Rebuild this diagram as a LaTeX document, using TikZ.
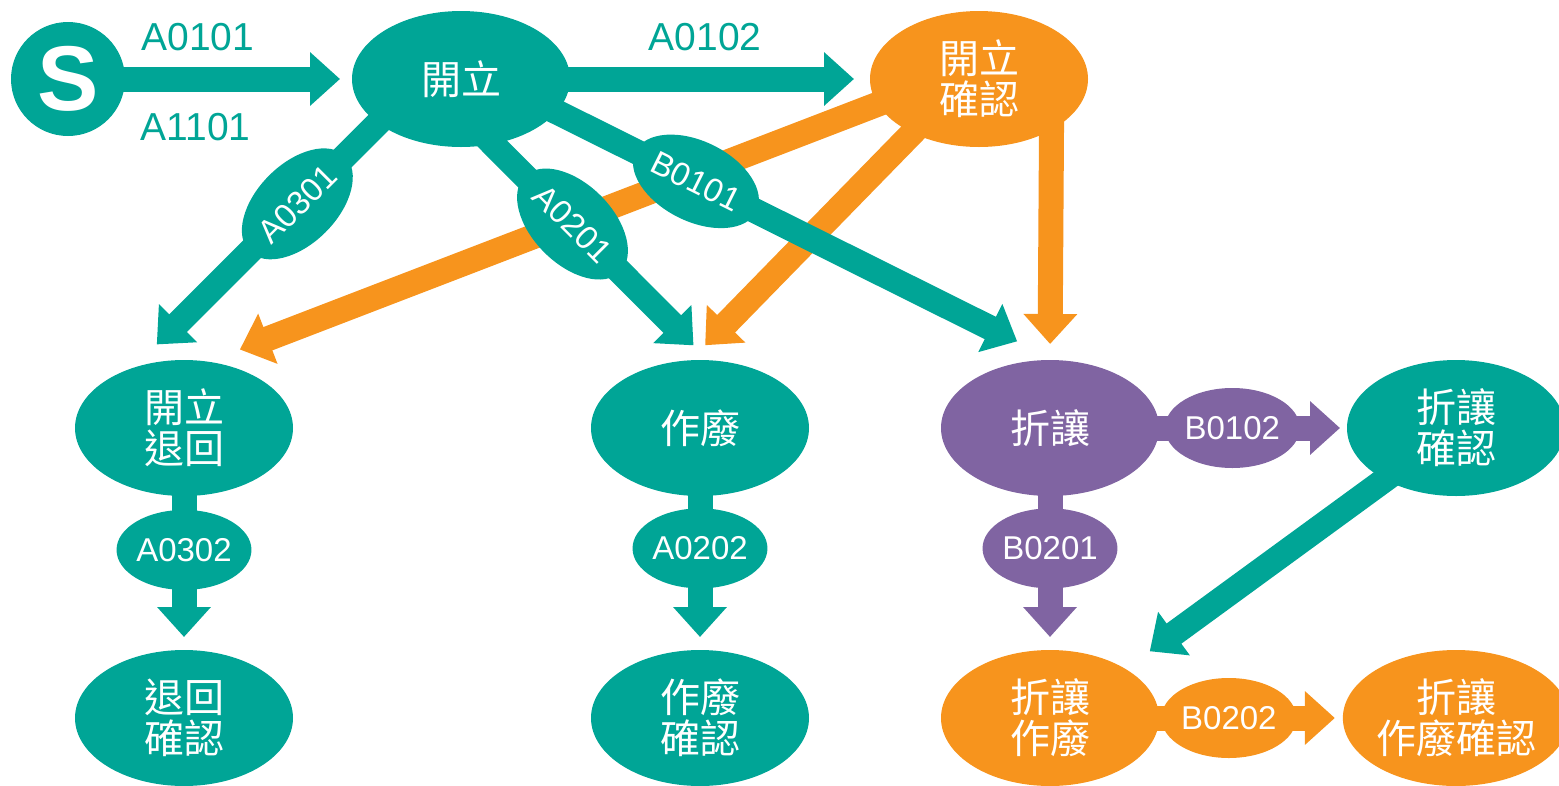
\documentclass[tikz,border=0pt]{standalone}
\usepackage{fontspec}
\setmainfont{Liberation Sans}
\newfontfamily\cjk{Noto Sans CJK TC}
\usetikzlibrary{arrows.meta,shapes.geometric,positioning,backgrounds}
\definecolor{kteal}{HTML}{00A596}
\definecolor{korange}{HTML}{F7941D}
\definecolor{kpurple}{HTML}{8064A2}

\begin{document}
\begin{tikzpicture}[x=1pt,y=-1pt,node distance=290pt,
    state node/.style={ellipse,minimum width=218pt,minimum height=136pt,inner sep=0pt,outer sep=0pt,
                       text=white,align=center,font=\cjk\fontsize{40}{41}\selectfont},
    code node/.style={ellipse,minimum width=132pt,minimum height=80pt,inner sep=0pt,
                      text=white,font=\fontsize{33}{36}\selectfont},
    tag node/.style={text=kteal,font=\fontsize{39}{40}\selectfont},
    flow/.style={line width=25pt,shorten <=-14pt,-{Triangle[width=52pt,length=30pt]}}]

  \useasboundingbox (0,0) rectangle (1559,785);

  \node[circle,fill=kteal,minimum size=114pt,inner sep=0pt,text=white,
        font=\fontsize{92}{92}\selectfont\bfseries] (start) at (68,79) {S};
  \node[state node,fill=kteal] (kaili) at (461,79) {開立};
  \node[state node,fill=korange] (kqr) at (979,79) {開立\\確認};
  \node[state node,fill=kteal] (tuihui) at (184,428) {開立\\退回};
  \node[state node,fill=kteal] (zuofei) at (700,428) {作廢};
  \node[state node,fill=kpurple] (zherang) at (1050,428) {折讓};
  \node[state node,fill=kteal,node distance=406pt] (zrqr) [right of=zherang] {折讓\\確認};
  \node[state node,fill=kteal] (thqr) [below of=tuihui] {退回\\確認};
  \node[state node,fill=kteal] (zfqr) [below of=zuofei] {作廢\\確認};
  \node[state node,fill=korange] (zrzf) [below of=zherang] {折讓\\作廢};
  \node[state node,fill=korange] (zrzfqr) [below of=zrqr] {折讓\\作廢確認};

  \begin{scope}[on background layer]
    % orange first, teal goes over it
    \draw[flow,korange,shorten >=34pt] (kqr.194) -- (tuihui.70);
    \draw[flow,korange,shorten >=21pt] (kqr.219) -- (zuofei.98);
    \draw[flow,korange,shorten >=16pt] (kqr.325) -- (zherang.north);

    \draw[flow,kteal,shorten >=12pt] (start) -- (kaili)
      node[tag node,pos=.32,yshift=42pt] {A0101}
      node[tag node,pos=.31,yshift=-48pt] {A1101};
    \draw[flow,kteal,shorten >=16pt] (kaili) -- (kqr)
      node[tag node,pos=.45,yshift=42pt] {A0102};
    \draw[flow,kteal,shorten >=33pt] (kaili.208) -- (tuihui.130)
      node[code node,fill=kteal,sloped,pos=.33] {A0301};
    \draw[flow,kteal,shorten >=21pt] (kaili.296) -- (zuofei.83)
      node[code node,fill=kteal,sloped,pos=.37] {A0201};
    \draw[flow,kteal,shorten >=42pt] (kaili.341) -- (zherang.86)
      node[code node,fill=kteal,sloped,pos=.28] {B0101};
    \draw[flow,kteal,shorten >=13pt] (tuihui) -- (thqr)
      node[code node,fill=kteal,pos=.35] {A0302};
    \draw[flow,kteal,shorten >=13pt] (zuofei) -- (zfqr)
      node[code node,fill=kteal,pos=.34] {A0202};

    \draw[flow,kpurple,shorten >=7pt] (zherang) -- (zrqr)
      node[code node,fill=kpurple,pos=.39] {B0102};
    \draw[flow,kpurple,shorten >=13pt] (zherang) -- (zrzf)
      node[code node,fill=kpurple,pos=.34] {B0201};
    \draw[flow,kteal,shorten >=30pt] (zrqr.216) -- (zrzf.33);
    \draw[flow,korange,shorten >=8pt] (zrzf) -- (zrzfqr)
      node[code node,fill=korange,pos=.38] {B0202};
  \end{scope}

\end{tikzpicture}
\end{document}
